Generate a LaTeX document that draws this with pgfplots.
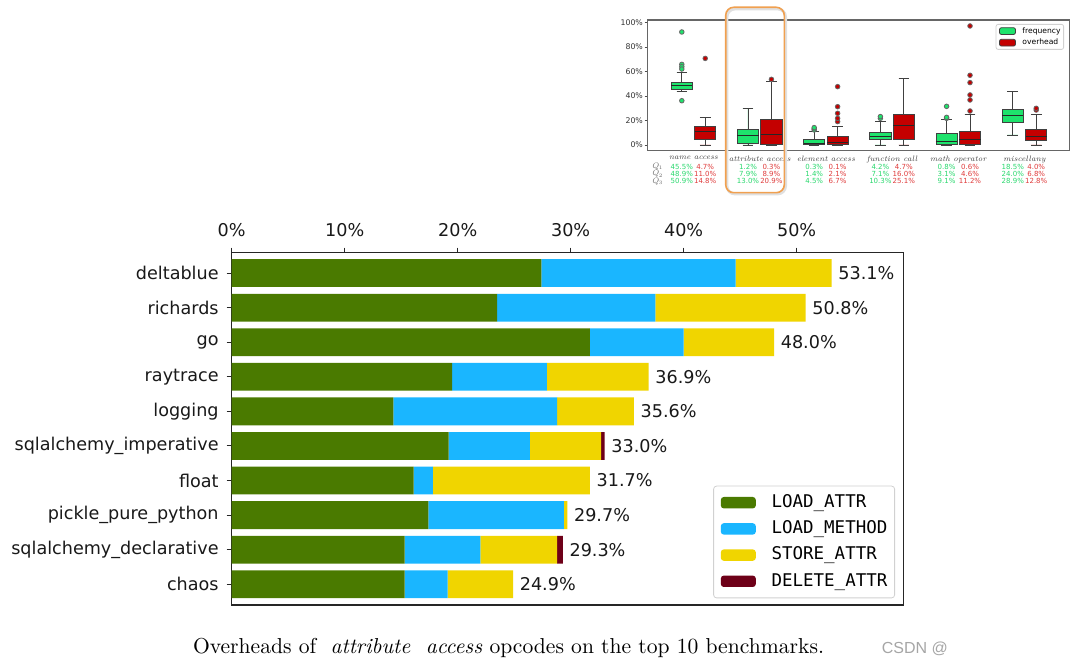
\documentclass[border=0pt]{standalone}
\usepackage{pgfplots}
\pgfplotsset{compat=1.18}
\usepgfplotslibrary{statistics}
\usepackage{fontspec}
\newfontfamily\djs{DejaVu Sans}
\newfontfamily\djm{DejaVu Sans Mono}
\newfontfamily\lib{Liberation Sans}
\definecolor{cLA}{HTML}{4A7A00}
\definecolor{cLM}{HTML}{1AB6FF}
\definecolor{cSA}{HTML}{F0D500}
\definecolor{cDA}{HTML}{6E0018}
\definecolor{cG}{HTML}{1EE36C}
\definecolor{cR}{HTML}{C40000}
\definecolor{tG}{HTML}{2AD96E}
\definecolor{tR}{HTML}{E03C3C}
\definecolor{cO}{HTML}{F0A050}
\pgfplotsset{
 mainpatch/.style={legend image code/.code={\fill[##1] (0pt,-2.85pt) rectangle (17.5pt,2.85pt);}},
 insetpatch/.style={legend image code/.code={\filldraw[##1] (0pt,-1.7pt) rectangle (8pt,1.7pt);}},
 gbox/.style={draw=black!75, line width=0.4pt, fill=cG, mark=*, mark size=1.15pt, mark options={fill=cG, draw=black!60}, forget plot, boxplot/every median/.style={draw=black!85, line width=0.45pt}},
 rbox/.style={draw=black!75, line width=0.4pt, fill=cR, mark=*, mark size=1.15pt, mark options={fill=cR, draw=black!60}, forget plot, boxplot/every median/.style={draw=black!85, line width=0.45pt}},
 mainframe/.style={at={(115.85pt,31pt)}, anchor=south west,
   scale only axis, width=335.85pt, height=176.15pt,
   xmin=0, xmax=59.45, ymin=-0.59, ymax=9.6, y dir=reverse},
}
\begin{document}
\begin{tikzpicture}[x=0.5pt,y=0.5pt]
\path[use as bounding box, fill=white] (0,0) rectangle (1080,667);

% ---------------- main chart ----------------
\begin{axis}[
 mainframe,
 xbar stacked, bar width=13.9pt,
 xtick={0,10,20,30,40,50}, xticklabels={0\%,10\%,20\%,30\%,40\%,50\%},
 ytick={0,...,9},
 yticklabels={deltablue,richards,go,raytrace,logging,sqlalchemy\_imperative,float,pickle\_pure\_python,sqlalchemy\_declarative,chaos},
 xtick pos=right, xticklabel pos=right, ytick pos=left,
 tick align=outside, major tick length=2.5pt,
 tick style={black!85, line width=0.5pt},
 axis line style={black!85, line width=0.65pt},
 ticklabel style={font=\djs\fontsize{8.8}{10}\selectfont, text=black!90},
 xticklabel style={anchor=base, inner sep=0pt, yshift=5.4pt},
 yticklabel style={anchor=east, inner sep=0pt, xshift=-3.85pt},
 clip=false,
 legend cell align=left,
 legend style={at={(1,0)}, anchor=south east, xshift=-4.2pt, yshift=3.35pt,
   font=\djm\fontsize{8.75}{10}\selectfont, draw=black!18, rounded corners=1.5pt, fill=white,
   inner xsep=3.6pt, inner ysep=4.3pt, row sep=5.1pt, column sep=7.85pt,
   nodes={inner sep=0pt, text height=6.4pt, text depth=1.6pt}},
]
\addplot[fill=cLA, draw=none, mainpatch] coordinates {
 (27.4,0) (23.5,1) (31.7,2) (19.5,3) (14.3,4) (19.2,5) (16.1,6) (17.4,7) (15.3,8) (15.3,9)};
\addlegendentry{LOAD\_ATTR}
\addplot[fill=cLM, draw=none, mainpatch] coordinates {
 (17.2,0) (14.0,1) (8.3,2) (8.4,3) (14.5,4) (7.2,5) (1.7,6) (12.0,7) (6.7,8) (3.8,9)};
\addlegendentry{LOAD\_METHOD}
\addplot[fill=cSA, draw=none, mainpatch] coordinates {
 (8.5,0) (13.3,1) (8.0,2) (9.0,3) (6.8,4) (6.3,5) (13.9,6) (0.3,7) (6.8,8) (5.8,9)};
\addlegendentry{STORE\_ATTR}
\addplot[fill=cDA, draw=none, mainpatch] coordinates {
 (0,0) (0,1) (0,2) (0,3) (0,4) (0.3,5) (0,6) (0,7) (0.5,8) (0,9)};
\addlegendentry{DELETE\_ATTR}
\end{axis}
% totals, written after the bars
\begin{axis}[mainframe, hide axis, clip=false,
 nodes near coords style={font=\djs\fontsize{8.8}{10}\selectfont, text=black!90, anchor=west, inner sep=0pt, xshift=3.2pt}]
\addplot[draw=none, mark=none, nodes near coords, point meta=explicit symbolic] coordinates {
 (53.1,0) [53.1\%] (50.8,1) [50.8\%] (48.0,2) [48.0\%] (36.9,3) [36.9\%] (35.6,4) [35.6\%]
 (33.0,5) [33.0\%] (31.7,6) [31.7\%] (29.7,7) [29.7\%] (29.3,8) [29.3\%] (24.9,9) [24.9\%]};
\end{axis}

% ---------------- inset box plot ----------------
\begin{axis}[
 at={(323.85pt,258.15pt)}, anchor=south west,
 scale only axis, width=210.8pt, height=65.35pt,
 xmin=-0.692, xmax=5.677, ymin=-4.66, ymax=102.2,
 xtick={0,...,5},
 xticklabels={name access,attribute access,element access,function call,math operator,miscellany},
 ytick={0,20,40,60,80,100}, yticklabels={0\%,20\%,40\%,60\%,80\%,100\%},
 xtick style={draw=none}, ytick pos=left, tick align=outside, major tick length=1.5pt,
 tick style={black!70, line width=0.4pt},
 axis line style={black!60, line width=0.6pt},
 xticklabel style={font=\itshape\fontsize{3.9}{4.5}\selectfont, text=black!75, anchor=north, inner sep=0pt, yshift=-0.8pt},
 yticklabel style={font=\djs\fontsize{3.9}{5}\selectfont, text=black!80, anchor=east, inner sep=0pt, xshift=-0.7pt},
 boxplot/draw direction=y,
 boxplot/box extend=0.32, boxplot/whisker extend=0.16,
 legend cell align=left,
 legend style={at={(1,1)}, anchor=north east, xshift=-2.65pt, yshift=-2pt,
   font=\djs\fontsize{3.8}{4.5}\selectfont, draw=black!18, rounded corners=1pt, fill=white,
   inner xsep=1.5pt, inner ysep=1.45pt, row sep=2pt, column sep=3.3pt,
   nodes={inner sep=0pt, text height=2.9pt, text depth=0.9pt}},
]
% name access
\addplot[gbox, boxplot prepared={draw position=-0.177, lower whisker=43.6, lower quartile=45.5, median=48.9, upper quartile=50.9, upper whisker=59.4}]
 coordinates {(0,92.4) (0,65.9) (0,64) (0,62.1) (0,36.2)};
\addplot[rbox, boxplot prepared={draw position=0.177, lower whisker=0, lower quartile=4.7, median=11.0, upper quartile=14.8, upper whisker=22.3}]
 coordinates {(0,70.8)};
% attribute access
\addplot[gbox, boxplot prepared={draw position=0.823, lower whisker=0, lower quartile=1.2, median=7.9, upper quartile=13.0, upper whisker=29.7}]
 coordinates {};
\addplot[rbox, boxplot prepared={draw position=1.177, lower whisker=0, lower quartile=0.3, median=8.9, upper quartile=20.9, upper whisker=51.8}]
 coordinates {(0,53.7)};
% element access
\addplot[gbox, boxplot prepared={draw position=1.823, lower whisker=0, lower quartile=0.3, median=1.4, upper quartile=4.5, upper whisker=11}]
 coordinates {(0,12.3) (0,13.2) (0,14.2)};
\addplot[rbox, boxplot prepared={draw position=2.177, lower whisker=0, lower quartile=0.1, median=2.1, upper quartile=6.7, upper whisker=15.5}]
 coordinates {(0,19.1) (0,21.8) (0,25.9) (0,31.3) (0,47.7)};
% function call
\addplot[gbox, boxplot prepared={draw position=2.823, lower whisker=0, lower quartile=4.2, median=7.1, upper quartile=10.3, upper whisker=19.1}]
 coordinates {(0,21.8) (0,23.2)};
\addplot[rbox, boxplot prepared={draw position=3.177, lower whisker=0, lower quartile=4.7, median=16.0, upper quartile=25.1, upper whisker=54.5}]
 coordinates {};
% math operator
\addplot[gbox, boxplot prepared={draw position=3.823, lower whisker=0, lower quartile=0.8, median=3.1, upper quartile=9.1, upper whisker=21}]
 coordinates {(0,21.8) (0,22.6) (0,31.6)};
\addplot[rbox, boxplot prepared={draw position=4.177, lower whisker=0, lower quartile=0.6, median=4.6, upper quartile=11.2, upper whisker=25}]
 coordinates {(0,27.8) (0,36.8) (0,40.9) (0,51) (0,57) (0,97.3)};
% miscellany
\addplot[gbox, boxplot prepared={draw position=4.823, lower whisker=8.2, lower quartile=18.5, median=24.0, upper quartile=28.9, upper whisker=43.6}]
 coordinates {};
\addplot[rbox, boxplot prepared={draw position=5.177, lower whisker=0, lower quartile=4.0, median=6.8, upper quartile=12.8, upper whisker=25}]
 coordinates {(0,28.6) (0,30)};
\addlegendimage{insetpatch, fill=cG, draw=black!75, line width=0.4pt}
\addlegendentry{frequency}
\addlegendimage{insetpatch, fill=cR, draw=black!75, line width=0.4pt}
\addlegendentry{overhead}
\end{axis}

% quartile rows under the inset
\foreach \k/\yy in {1/500.3, 2/493.1, 3/485.7}
  \node[inner sep=0pt, text=black!60] at (657,\yy) {\fontsize{4}{4.5}\selectfont\itshape Q\kern0.1pt\raisebox{-0.6pt}{\fontsize{2.6}{3}\selectfont\upshape\k}};
\foreach \cx/\ga/\gb/\gc/\ra/\rb/\rc in {
  693.5/45.5/48.9/50.9/4.7/11.0/14.8,
  759.7/1.2/7.9/13.0/0.3/8.9/20.9,
  825.9/0.3/1.4/4.5/0.1/2.1/6.7,
  892.1/4.2/7.1/10.3/4.7/16.0/25.1,
  958.3/0.8/3.1/9.1/0.6/4.6/11.2,
  1024.5/18.5/24.0/28.9/4.0/6.8/12.8}{
  \node[inner sep=0pt, font=\djs\fontsize{3.5}{4}\selectfont, text=tG] at (\cx-11.7,500.3) {\ga\%};
  \node[inner sep=0pt, font=\djs\fontsize{3.5}{4}\selectfont, text=tG] at (\cx-11.7,493.1) {\gb\%};
  \node[inner sep=0pt, font=\djs\fontsize{3.5}{4}\selectfont, text=tG] at (\cx-11.7,485.7) {\gc\%};
  \node[inner sep=0pt, font=\djs\fontsize{3.5}{4}\selectfont, text=tR] at (\cx+11.7,500.3) {\ra\%};
  \node[inner sep=0pt, font=\djs\fontsize{3.5}{4}\selectfont, text=tR] at (\cx+11.7,493.1) {\rb\%};
  \node[inner sep=0pt, font=\djs\fontsize{3.5}{4}\selectfont, text=tR] at (\cx+11.7,485.7) {\rc\%};
}
% highlight frame
\draw[black!12, line width=1.4pt, rounded corners=4pt] (727,658) rectangle (785.6,473);
\draw[cO, line width=0.8pt, rounded corners=4pt] (725.7,659.7) rectangle (784.3,474.3);

% caption
\node[anchor=base west, inner sep=0pt, font=\fontsize{10.8}{13}\selectfont] at (192.6,13)
  {Overheads of\ \ \textit{attribute\ \ access} opcodes on the top 10 benchmarks.};
\node[anchor=base west, inner sep=0pt, text=black!35, font=\lib\fontsize{8}{9}\selectfont] at (881.5,13) {CSDN @};
\end{tikzpicture}
\end{document}
